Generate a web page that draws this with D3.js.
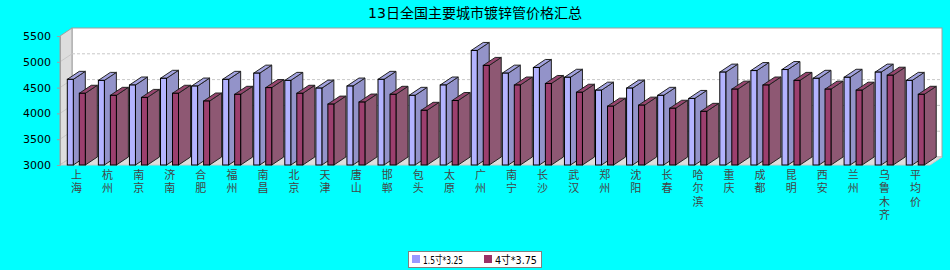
<!DOCTYPE html>
<html>
<head>
<meta charset="utf-8">
<script src="https://cdn.jsdelivr.net/npm/d3@7"></script>
<style>
	body { margin: 0; background: #00ffff; }
	svg { display: block; }
	text { font-family: "DejaVu Sans", "Noto Sans CJK SC", sans-serif; }
</style>
</head>
<body>
<div class="container"></div>
<script>
"use strict";

// chart data
const cities = ['上海', '杭州', '南京', '济南', '合肥', '福州', '南昌', '北京', '天津', '唐山',
	'邯郸', '包头', '太原', '广州', '南宁', '长沙', '武汉', '郑州', '沈阳', '长春',
	'哈尔滨', '重庆', '成都', '昆明', '西安', '兰州', '乌鲁木齐', '平均价']
const seriesNames = ['1.5寸*3.25', '4寸*3.75']
const pipe15 = [4660, 4640, 4550, 4680, 4530, 4660, 4780, 4640, 4490, 4530,
	4660, 4350, 4550, 5220, 4780, 4890, 4700, 4450, 4490, 4350,
	4290, 4800, 4830, 4850, 4680, 4700, 4800, 4640]
const pipe4 = [4390, 4350, 4310, 4390, 4240, 4370, 4500, 4390, 4180, 4220,
	4370, 4060, 4250, 4930, 4550, 4580, 4410, 4140, 4160, 4100,
	4040, 4470, 4550, 4640, 4470, 4450, 4740, 4370]
const yTicks = [3000, 3500, 4000, 4500, 5000, 5500]
const chartTitle = '13日全国主要城市镀锌管价格汇总'

const p = {
	width: 950,
	height: 270,
	left: 60,
	right: 930,
	top: 36,
	bottom: 165,
	dx: 12, // depth offset of the 3d plot
	dy: 8
}

// colours: front, side, top
const colors = [
	{ front: '#b3b3ff', side: '#9393c9', top: '#a3a3e0', key: '#9999ff' },
	{ front: '#9c3f6e', side: '#8e5873', top: '#97466f', key: '#993366' }
]

const svg = d3.select('.container')
	.append('svg')
	.attr('width', p.width)
	.attr('height', p.height)

const x = d3.scaleBand().domain(cities).range([p.left, p.right])
const xs = d3.scaleBand().domain([0, 1]).range([4.3, 28.3]).paddingInner(0.5).paddingOuter(0.25)
const y = d3.scaleLinear().domain([3000, 5500]).range([p.bottom, p.top])

// title
svg.append('text')
	.attr('x', 475)
	.attr('y', 18)
	.attr('text-anchor', 'middle')
	.attr('font-size', 14)
	.attr('fill', '#000')
	.text(chartTitle)

// back wall
svg.append('rect')
	.attr('x', p.left + p.dx)
	.attr('y', p.top - p.dy)
	.attr('width', p.right - p.left)
	.attr('height', p.bottom - p.top)
	.attr('fill', '#fff')
	.attr('stroke', '#a0a0a0')

// left wall
svg.append('path')
	.attr('d', `M${p.left},${p.top}L${p.left + p.dx},${p.top - p.dy}L${p.left + p.dx},${p.bottom - p.dy}L${p.left},${p.bottom}Z`)
	.attr('fill', '#dddddd')
	.attr('stroke', '#a0a0a0')

// floor
svg.append('path')
	.attr('d', `M${p.left},${p.bottom}L${p.left + p.dx},${p.bottom - p.dy}L${p.right + p.dx},${p.bottom - p.dy}L${p.right},${p.bottom}Z`)
	.attr('fill', '#dddddd')
	.attr('stroke', '#c8c8c8')

// gridlines on back wall and left wall
yTicks.slice(1, -1).forEach(function(t) {
	svg.append('line')
		.attr('x1', p.left + p.dx).attr('x2', p.right + p.dx)
		.attr('y1', y(t) - p.dy).attr('y2', y(t) - p.dy)
		.attr('stroke', '#c8c8c8')
		.attr('stroke-dasharray', '3,2')
	svg.append('line')
		.attr('x1', p.left).attr('x2', p.left + p.dx)
		.attr('y1', y(t)).attr('y2', y(t) - p.dy)
		.attr('stroke', '#c8c8c8')
})

// y axis
const yAxis = svg.append('g')
	.attr('transform', `translate(${p.left},0)`)
	.call(d3.axisLeft(y).tickValues(yTicks).tickSize(3).tickPadding(6).tickFormat(d3.format('d')))
yAxis.select('.domain').attr('stroke', '#a0a0a0')
yAxis.selectAll('.tick line').attr('stroke', '#a0a0a0')
yAxis.selectAll('text').attr('font-size', 11).attr('fill', '#000').attr('font-family', 'DejaVu Sans')

// bars
const rows = []
cities.forEach(function(c, i) {
	rows.push({ city: c, s: 0, v: pipe15[i] })
	rows.push({ city: c, s: 1, v: pipe4[i] })
})

const bars = svg.append('g').selectAll('g')
	.data(rows)
	.join('g')

bars.each(function(d) {
	const g = d3.select(this)
	const x0 = x(d.city) + xs(d.s)
	const x1 = x0 + xs.bandwidth()
	const y0 = y(d.v)
	const yb = p.bottom
	const c = colors[d.s]
	//side face
	g.append('path')
		.attr('d', `M${x1},${y0}L${x1 + p.dx},${y0 - p.dy}L${x1 + p.dx},${yb - p.dy}L${x1},${yb}Z`)
		.attr('fill', c.side)
		.attr('stroke', '#222')
		.attr('stroke-width', 1)
	//top face
	g.append('path')
		.attr('d', `M${x0},${y0}L${x0 + p.dx},${y0 - p.dy}L${x1 + p.dx},${y0 - p.dy}L${x1},${y0}Z`)
		.attr('fill', c.top)
		.attr('stroke', '#222')
		.attr('stroke-width', 1)
	//front face
	g.append('rect')
		.attr('x', x0)
		.attr('y', y0)
		.attr('width', x1 - x0)
		.attr('height', yb - y0)
		.attr('fill', c.front)
		.attr('stroke', '#000')
		.attr('stroke-width', 1)
})

// category labels, one character per line
const labels = svg.append('g').selectAll('text')
	.data(cities)
	.join('text')
	.attr('x', d => x(d) + x.bandwidth() / 2 + 1)
	.attr('y', 179)
	.attr('text-anchor', 'middle')
	.attr('font-size', 11)
	.attr('fill', '#444')
	.attr('font-family', 'Noto Sans CJK SC')

labels.each(function(d) {
	const t = d3.select(this)
	Array.from(d).forEach(function(ch, k) {
		t.append('tspan')
			.attr('x', t.attr('x'))
			.attr('dy', k === 0 ? 0 : 13.3)
			.text(ch)
	})
})

// legend
const legend = svg.append('g')
legend.append('rect')
	.attr('x', 408.5).attr('y', 251.5)
	.attr('width', 133).attr('height', 16)
	.attr('fill', '#fff')
	.attr('stroke', '#808080')
const legendItems = [{ x: 412, w: 40 }, { x: 484, w: 42 }]
legendItems.forEach(function(it, i) {
	legend.append('rect')
		.attr('x', it.x).attr('y', 255)
		.attr('width', 8).attr('height', 8)
		.attr('fill', colors[i].key)
	legend.append('text')
		.attr('x', it.x + 11).attr('y', 264)
		.attr('font-size', 11)
		.attr('textLength', it.w)
		.attr('lengthAdjust', 'spacingAndGlyphs')
		.attr('fill', '#000')
		.text(seriesNames[i])
})
</script>
</body>
</html>
